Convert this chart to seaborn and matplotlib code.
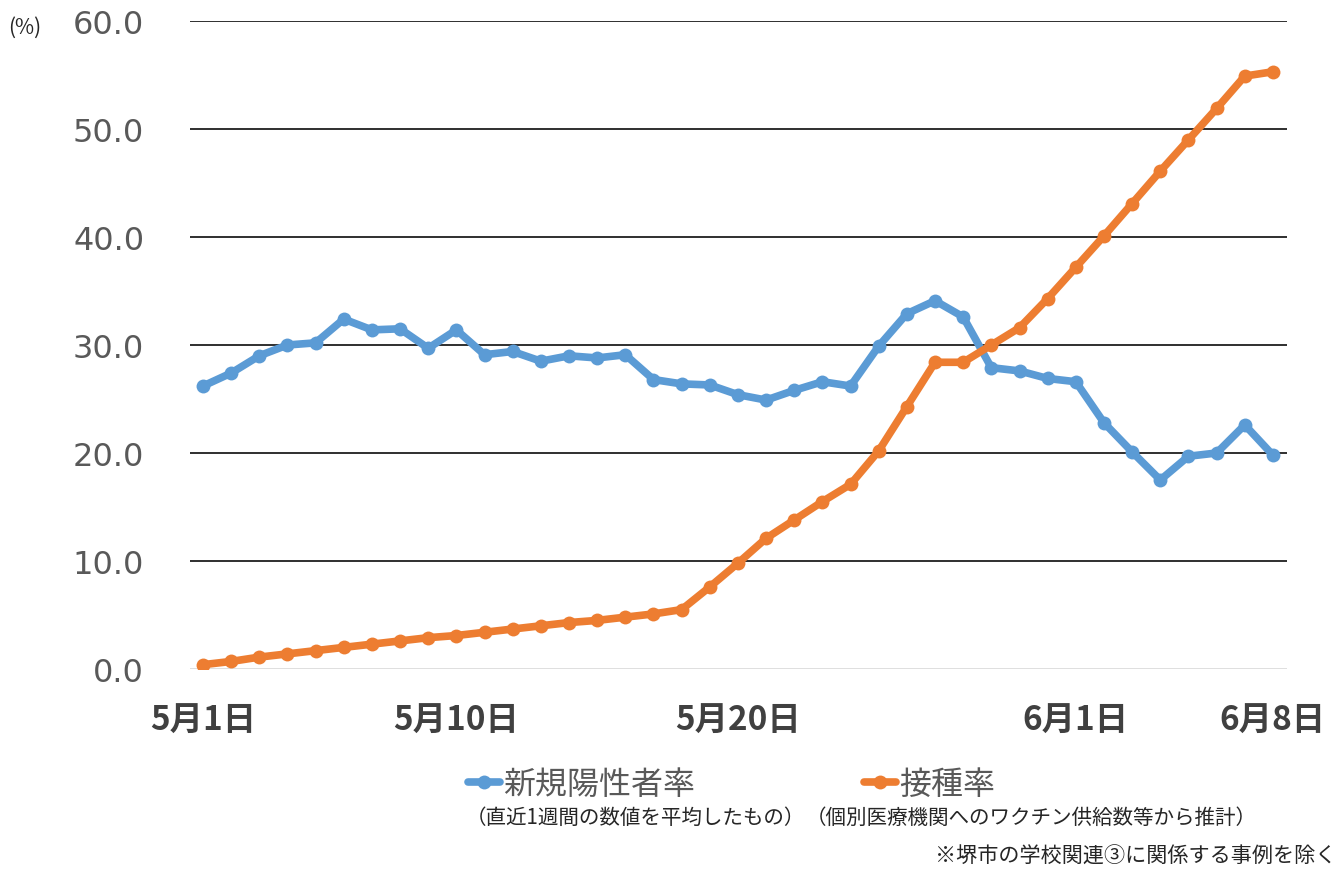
import numpy as np
import pandas as pd
import seaborn as sns
import matplotlib.pyplot as plt
from matplotlib.lines import Line2D

# 5/1 .. 6/8
days = [f"5月{d}日" for d in range(1, 32)] + [f"6月{d}日" for d in range(1, 9)]

positive_rate = [26.2, 27.4, 29.0, 30.0, 30.2, 32.4, 31.4, 31.5, 29.7, 31.4,
                 29.1, 29.4, 28.5, 29.0, 28.8, 29.1, 26.8, 26.4, 26.3, 25.4,
                 24.9, 25.8, 26.6, 26.2, 29.9, 32.9, 34.1, 32.6, 27.9, 27.6,
                 26.9, 26.6, 22.8, 20.1, 17.5, 19.7, 20.0, 22.6, 19.8]

vaccine_rate = [0.4, 0.7, 1.1, 1.4, 1.7, 2.0, 2.3, 2.6, 2.9, 3.1,
                3.4, 3.7, 4.0, 4.3, 4.5, 4.8, 5.1, 5.5, 7.6, 9.8,
                12.1, 13.8, 15.5, 17.1, 20.2, 24.3, 28.4, 28.4, 30.0, 31.6,
                34.3, 37.2, 40.1, 43.1, 46.1, 49.0, 51.9, 54.9, 55.3]

tick_days = ["5月1日", "5月10日", "5月20日", "6月1日", "6月8日"]

series_names = ["新規陽性者率", "接種率"]
series_notes = ["（直近1週間の数値を平均したもの）", "（個別医療機関へのワクチン供給数等から推計）"]
footnote = "※堺市の学校関連③に関係する事例を除く"

blue = "#5B9BD5"
orange = "#ED7D31"

df = pd.DataFrame({"day": np.arange(len(days)),
                   series_names[0]: positive_rate,
                   series_names[1]: vaccine_rate})

sns.set_theme(style="white")
plt.rcParams["font.family"] = ["Noto Sans CJK JP", "DejaVu Sans"]

fig = plt.figure(figsize=(13.43, 8.7), dpi=100)
ax = fig.add_axes([190 / 1343, 1 - 670 / 870, (1287 - 190) / 1343, (670 - 22) / 870])

sns.lineplot(data=df, x="day", y=series_names[0], ax=ax, color=blue, lw=5.5,
             marker="o", markersize=10, markeredgewidth=0, label=series_names[0])
sns.lineplot(data=df, x="day", y=series_names[1], ax=ax, color=orange, lw=5.5,
             marker="o", markersize=10, markeredgewidth=0, label=series_names[1])

ax.set_ylim(0, 60)
ax.set_xlim(-0.46, 38.5)
ax.set_yticks(np.arange(0, 61, 10))
ax.set_yticklabels([f"{v:.1f}" for v in np.arange(0, 61, 10)],
                   fontsize=23, color="#595959", family="DejaVu Sans")
ax.set_xticks([days.index(t) for t in tick_days])
ax.set_xticklabels(tick_days, fontsize=24, fontweight="bold", color="#404040")
ax.tick_params(axis="y", length=0, pad=33)
ax.tick_params(axis="x", length=0, pad=25)
ax.set_xlabel("")
ax.set_ylabel("")

for v in range(10, 61, 10):
    ax.axhline(v, color="#1f1f1f", lw=1.3, zorder=0)
ax.axhline(0, color="#d9d9d9", lw=1.2, zorder=0)
for s in ax.spines.values():
    s.set_visible(False)
ax.grid(False)

ax.get_legend().remove()
handles = [Line2D([], [], color=blue, lw=5.5, marker="o", markersize=10, markeredgewidth=0),
           Line2D([], [], color=orange, lw=5.5, marker="o", markersize=10, markeredgewidth=0)]
fig.legend(handles, series_names, loc="center left", bbox_to_anchor=(468 / 1343, 1 - 785 / 870),
           ncol=2, frameon=False, fontsize=23, handlelength=1.0, handletextpad=0.1,
           columnspacing=5.3, labelcolor="#595959", borderpad=0, borderaxespad=0)

fig.text(466 / 1343, 1 - 818 / 870, series_notes[0], fontsize=14.8, color="#262626",
         ha="left", va="center")
fig.text(806 / 1343, 1 - 818 / 870, series_notes[1], fontsize=14.8, color="#262626",
         ha="left", va="center")
fig.text(1336 / 1343, 1 - 857 / 870, footnote, fontsize=15.2, color="#262626",
         ha="right", va="center")
fig.text(8 / 1343, 1 - 28 / 870, "(%)", fontsize=15, color="#262626", ha="left", va="center")

fig.savefig("out.png", dpi=100)
